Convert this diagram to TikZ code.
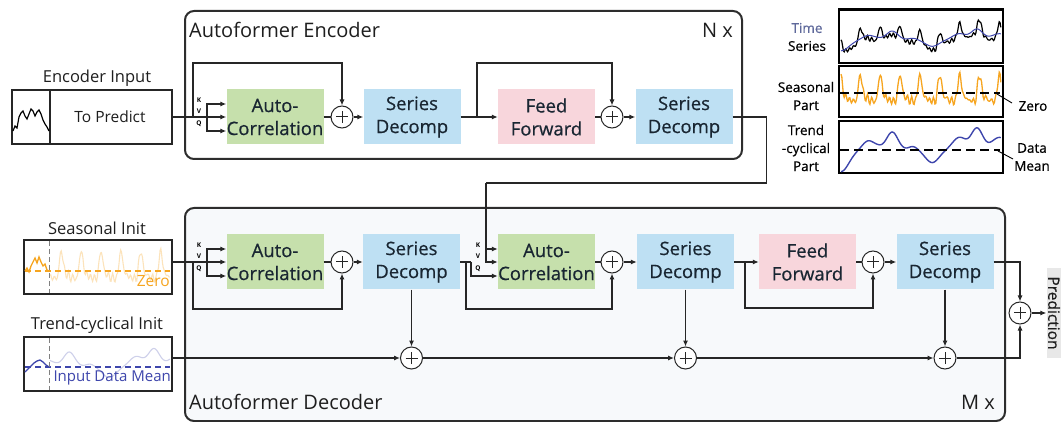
\documentclass[tikz,border=0pt]{standalone}
\usepackage{fontspec}
\setmainfont{Open Sans}
\newfontfamily\semib[FakeBold=0.6]{Open Sans}
\usetikzlibrary{arrows.meta}
\definecolor{acgreen}{RGB}{198,224,172}
\definecolor{sdblue}{RGB}{190,224,243}
\definecolor{ffpink}{RGB}{248,214,220}
\definecolor{frameg}{RGB}{45,45,45}
\definecolor{decfill}{RGB}{247,249,251}
\definecolor{seaorange}{RGB}{246,165,32}
\definecolor{trendblue}{RGB}{62,70,172}
\definecolor{slate}{RGB}{95,105,155}
\definecolor{predgray}{RGB}{232,232,232}
\definecolor{txt}{RGB}{30,30,30}
\definecolor{blocktxt}{RGB}{25,38,50}
\begin{document}
\begin{tikzpicture}[x=1pt,y=-1pt,
  declare function={
    sea(\t)=7*cos(2900*\t)+4*cos(5800*\t+20)+2*cos(8700*\t+40)+1.5*sin(13100*\t+70)+1.2*sin(15700*\t);
    gb(\t,\c,\w)=exp(-min(((\t-\c)/\w)^2,30));
    trd(\t)=-24*gb(\t,0,0.07)+10*gb(\t,0.17,0.05)+3*gb(\t,0.23,0.04)+20*gb(\t,0.32,0.05)+4*gb(\t,0.45,0.04)
            -14*gb(\t,0.57,0.06)+14*gb(\t,0.74,0.06)+24*gb(\t,0.85,0.05)+14*gb(\t,0.99,0.07);
  },
  block/.style={minimum width=97pt, minimum height=55pt, inner sep=0pt, align=center,
    font=\semib\fontsize{18.5}{23}\selectfont, text=blocktxt},
  acblock/.style={block, fill=acgreen},
  sdblock/.style={block, fill=sdblue},
  ffblock/.style={block, fill=ffpink},
  plusnode/.style={circle, draw=black!85, line width=1pt, minimum size=22pt, inner sep=0pt, fill=white,
    path picture={\draw[line width=1pt]
      ([xshift=-6pt]path picture bounding box.center) -- ([xshift=6pt]path picture bounding box.center)
      ([yshift=-6pt]path picture bounding box.center) -- ([yshift=6pt]path picture bounding box.center);}},
  conn/.style={line width=1.1pt, draw=black!85},
  arr/.style={conn, -{Latex[length=6pt,width=5pt]}},
  frame/.style={draw=frameg, line width=2pt, rounded corners=9pt, inner sep=0pt, anchor=north west},
  inbox/.style={draw=black!85, line width=1.3pt, inner sep=0pt, fill=white},
  panel/.style={draw=black, line width=1.3pt, inner sep=0pt, minimum width=164pt},
  kvq/.style={font=\fontsize{6.5}{6.5}\selectfont\bfseries, inner sep=0pt},
  title/.style={font=\fontsize{20}{24}\selectfont, text=txt, inner sep=0pt},
  lbl/.style={font=\fontsize{16.5}{19}\selectfont, text=txt, inner sep=0pt},
  leg/.style={font=\semib\fontsize{13.5}{18}\selectfont, text=black, inner sep=0pt, align=center},
  fadeddash/.style={dash pattern=on 6pt off 4pt, line width=1.1pt},
]
\useasboundingbox (0,0) rectangle (1061,422);

% ---------- frames ----------
\node (enc) [frame, fill=white, minimum width=557pt, minimum height=148pt] at (184,10) {};
\node (dec) [frame, fill=decfill, minimum width=820pt, minimum height=213pt] at (184,207) {};
\node[title, anchor=west] at (189,30) {Autoformer Encoder};
\node[title, anchor=east] at (733,30) {N x};
\node[title, anchor=west] at (189,402) {Autoformer Decoder};
\node[title, anchor=east] at (995,402) {M x};

% ---------- encoder blocks ----------
\node (encAC)  [acblock] at (275,117)   {Auto-\\Correlation};
\node (plusE1) [plusnode] at (342,117) {};
\node (encSD1) [sdblock] at (412,117)   {Series\\Decomp};
\node (encFF)  [ffblock] at (546.5,117) {Feed\\Forward};
\node (plusE2) [plusnode] at (612,117) {};
\node (encSD2) [sdblock] at (684,117)   {Series\\Decomp};

% ---------- decoder blocks ----------
\node (decAC1) [acblock] at (275,262)   {Auto-\\Correlation};
\node (plusD1) [plusnode] at (342,262) {};
\node (decSD1) [sdblock] at (411.5,262) {Series\\Decomp};
\node (decAC2) [acblock] at (546.5,262) {Auto-\\Correlation};
\node (plusD2) [plusnode] at (612,262) {};
\node (decSD2) [sdblock] at (685.5,262) {Series\\Decomp};
\node (decFF)  [ffblock] at (807.5,262) {Feed\\Forward};
\node (plusD3) [plusnode] at (873,262) {};
\node (decSD3) [sdblock] at (945,262)   {Series\\Decomp};
\node (plusB1) [plusnode] at (411.5,358) {};
\node (plusB2) [plusnode] at (685.5,358) {};
\node (plusB3) [plusnode] at (945,358) {};
\node (plusF)  [plusnode] at (1020,313) {};
\node (pred) [rotate=-90, fill=predgray, inner sep=1.5pt, minimum width=90pt,
  font=\semib\fontsize{15.5}{17}\selectfont, text=txt] at (1054,313) {Prediction};

% ---------- inputs ----------
\node[lbl] at (97,78) {Encoder Input};
\node (einp) [inbox, minimum width=160pt, minimum height=54pt] at (92,117) {};
\draw[line width=1.3pt, draw=black!85] (50,90) -- (50,144);
\node[lbl, font=\fontsize{15.5}{18}\selectfont] at (110,117) {To Predict};
\draw[line width=1.2pt, black] (13,131) -- (15,126) -- (17,128) -- (19,117) -- (21,113) -- (23,111)
  -- (25,116) -- (27,119) -- (29,114) -- (31,109) -- (33,111) -- (35,116) -- (37,112) -- (39,110)
  -- (41,114) -- (43,120) -- (45,124) -- (47,127) -- (49,131);

\node[lbl] at (97,228) {Seasonal Init};
\node (sinit) [inbox, minimum width=148pt, minimum height=54pt] at (98,267) {};
\draw[seaorange, opacity=0.3, line width=1.1pt]
  plot[domain=0.05:0.8, samples=150] ({50+160*(\x-0.05)},{271-1.5*sea(\x)});
\draw[seaorange, line width=1.3pt] (25,271) -- (27,268) -- (29,272) -- (31,266) -- (33,262) -- (35,258)
  -- (37,263) -- (39,257) -- (41,262) -- (43,266) -- (45,264) -- (47,270) -- (49,271);
\draw[seaorange, fadeddash] (25,271) -- (170,271);
\draw[gray, dash pattern=on 5pt off 3pt, line width=1pt] (49,241) -- (49,293);
\node[lbl, text=seaorange, font=\fontsize{15.5}{17}\selectfont, anchor=east] at (170,281) {Zero};

\node[lbl] at (97,325) {Trend-cyclical Init};
\node (tinit) [inbox, minimum width=148pt, minimum height=54pt] at (98,364) {};
\draw[trendblue, opacity=0.25, line width=1.1pt]
  plot[domain=0.2:0.95, samples=120] ({50+160*(\x-0.2)},{367-0.75*trd(\x)});
\draw[trendblue, line width=1.3pt] (25,372) -- (28,369) -- (31,366) -- (34,363) -- (37,361) -- (40,360)
  -- (43,362) -- (46,365) -- (49,367);
\draw[trendblue, fadeddash] (25,367) -- (170,367);
\draw[gray, dash pattern=on 5pt off 3pt, line width=1pt] (49,338) -- (49,390);
\node[lbl, text=trendblue, font=\fontsize{15}{17}\selectfont, anchor=east] at (171,378) {Input Data Mean};

% ---------- encoder connectors ----------
\coordinate (eb) at (207,117);
\coordinate (es1) at (193,117);
\coordinate (es2) at (477,117);
\draw[conn] (einp.east) -- (eb);
\draw[arr] (eb) |- ([yshift=13pt]encAC.west);
\draw[arr] (eb) -- (encAC.west);
\draw[arr] (eb) |- ([yshift=-14pt]encAC.west);
\node[kvq] at (199,100) {K};
\node[kvq] at (199,111) {V};
\node[kvq] at (199,124) {Q};
\draw[arr] (es1) -- ++(0,-54) -| (plusE1.north);
\draw[conn] (encAC) -- (plusE1);
\draw[arr] (plusE1) -- (encSD1);
\draw[arr] (encSD1) -- (encFF);
\draw[arr] (es2) -- ++(0,-54) -| (plusE2.north);
\draw[conn] (encFF) -- (plusE2);
\draw[arr] (plusE2) -- (encSD2);

% encoder output into the decoder cross-correlation (K, V)
\coordinate (kvdrop) at (486,183);
\draw[conn] (encSD2.east) -- ++(34,0) |- (kvdrop);
\draw[arr] (kvdrop) |- ([yshift=13pt]decAC2.west);
\draw[arr] (kvdrop) |- (decAC2.west);

% ---------- decoder connectors ----------
\coordinate (db1) at (207,262);
\coordinate (ds1) at (193,262);
\draw[conn] (sinit.east |- db1) -- (db1);
\draw[arr] (db1) |- ([yshift=13pt]decAC1.west);
\draw[arr] (db1) -- (decAC1.west);
\draw[arr] (db1) |- ([yshift=-14pt]decAC1.west);
\node[kvq] at (199,245) {K};
\node[kvq] at (199,256) {V};
\node[kvq] at (199,269) {Q};
\draw[arr] (ds1) -- ++(0,47) -| (plusD1.south);
\draw[conn] (decAC1) -- (plusD1);
\draw[arr] (plusD1) -- (decSD1);

\coordinate (dq) at (471,262);
\coordinate (ds2) at (466,262);
\draw[conn] (decSD1.east) -- (dq);
\draw[arr] (dq) |- ([yshift=-14pt]decAC2.west);
\draw[arr] (ds2) -- ++(0,47) -| (plusD2.south);
\node[kvq] at (478,245) {K};
\node[kvq] at (478,256) {V};
\node[kvq] at (478,269) {Q};
\draw[conn] (decAC2) -- (plusD2);
\draw[arr] (plusD2) -- (decSD2);

\coordinate (ds3) at (745,262);
\draw[arr] (decSD2) -- (decFF);
\draw[arr] (ds3) -- ++(0,46) -| (plusD3.south);
\draw[conn] (decFF) -- (plusD3);
\draw[arr] (plusD3) -- (decSD3);

% trend accumulation
\draw[arr] (decSD1.south) -- (plusB1.north);
\draw[arr] (decSD2.south) -- (plusB2.north);
\draw[arr] (decSD3.south) -- (plusB3.north);
\draw[arr] (tinit.east |- plusB1) -- (plusB1);
\draw[arr] (plusB1) -- (plusB2);
\draw[arr] (plusB2) -- (plusB3);
\draw[arr] (plusB3.east) -| (plusF.south);
\draw[arr] (decSD3.east) -| (plusF.north);
\draw[arr] (plusF) -- (plusF -| pred.south);

% ---------- decomposition legend ----------
\node (p1) [panel, minimum height=53pt] at (921,36.5) {};
\node (p2) [panel, minimum height=51pt] at (921,91.5) {};
\node (p3) [panel, minimum height=52pt] at (921,147) {};
\draw[line width=3pt] (p1.north west) -- (p1.north east);
\draw[black, line width=1.2pt]
  plot[domain=0:1, samples=200] ({841+160*\x},{40-0.45*trd(\x)-0.8*sea(\x)});
\draw[trendblue, line width=1pt]
  plot[domain=0:1, samples=100] ({841+160*\x},{40-0.45*trd(\x)});
\draw[seaorange, line width=1.3pt]
  plot[domain=0:1, samples=200] ({841+160*\x},{94-1.45*sea(\x)});
\draw[dash pattern=on 9pt off 5pt, line width=1.2pt] (840,93) -- (1000,93);
\draw[trendblue, line width=1.4pt]
  plot[domain=0:1, samples=120] ({841+160*\x},{150-0.9*trd(\x)});
\draw[dash pattern=on 9pt off 5pt, line width=1.2pt] (840,150) -- (1000,150);

\node[leg] at (807,37) {\textcolor{slate}{Time}\\Series};
\node[leg] at (806,96) {Seasonal\\Part};
\node[leg] at (806,148) {Trend\\-cyclical\\Part};
\draw[line width=0.9pt] (997,94) -- (1012,103);
\node[leg] at (1033,106) {Zero};
\draw[line width=0.9pt] (998,151) -- (1013,159);
\node[leg] at (1032,157) {Data\\Mean};
\end{tikzpicture}
\end{document}
